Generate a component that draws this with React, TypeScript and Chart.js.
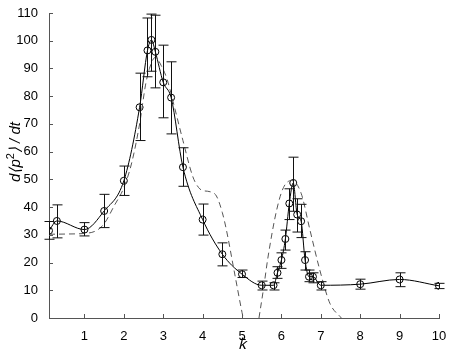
import React, { useEffect, useRef } from "react";
import { Chart, registerables } from "chart.js";

Chart.register(...registerables);

// measured points
const kVals = [0.1, 0.3, 1.0, 1.5, 2.0, 2.4, 2.6, 2.7, 2.8, 3.0, 3.2, 3.5, 4.0, 4.5, 5.0, 5.5, 5.8, 5.9, 6.0, 6.1, 6.2, 6.3, 6.4, 6.5, 6.6, 6.7, 6.8, 7.0, 8.0, 9.0, 10.0];
const rate = [31.5, 35, 31.9, 38.6, 49.5, 76, 96.5, 100.3, 96, 85, 79.5, 54.4, 35.5, 23, 15.8, 11.8, 11.8, 16.3, 20.9, 28.5, 41.3, 48.7, 37.3, 34.9, 20.9, 14.9, 14.9, 11.8, 12.2, 13.9, 11.6];
const errHigh = [34.8, 40.8, 34.4, 44.6, 54.8, 88.3, 108.2, 109.6, 109.2, 98.4, 92.4, 61.4, 41.1, 27.1, 17.3, 13.3, 12.7, 18.5, 23.5, 31.7, 46.6, 58, 43, 41, 23.9, 17.3, 16.3, 13.1, 14, 16.3, 12.5];
const errLow = [28.4, 28.9, 29.6, 32.6, 44.2, 64, 87, 89, 83, 72.2, 66.4, 47.5, 29.9, 18.8, 14.6, 10.1, 10.1, 14.3, 17.9, 24.5, 35.5, 38.5, 31, 29, 17.3, 13.1, 12.7, 10.1, 10.4, 11.3, 10.6];

// theory curve (dashed); null marks a gap where the curve is below the axis
const kTheory = [0.1, 0.6, 1.0, 1.3, 1.5, 1.76, 2.0, 2.2, 2.4, 2.55, 2.65, 2.8, 2.95, 3.1, 3.25, 3.5, 3.75, 3.9, 4.0, 4.2, 4.35, 4.5, 4.6, 4.8, 5.0, 5.03, 5.2, 5.43, 5.55, 5.66, 5.88, 6.05, 6.26, 6.5, 6.72, 6.98, 7.23, 7.52];
const theory = [30.2, 30.3, 30.5, 31.5, 34, 40.6, 47, 56, 70, 84, 90, 94, 91, 86, 78, 64, 51, 47, 46, 45.5, 44, 38, 32, 17, 2, 0, null, 0, 11, 22, 39, 47, 49.6, 45, 32, 17, 5.3, 0];

const xTicks = [1, 2, 3, 4, 5, 6, 7, 8, 9, 10];
const yTicks = [0, 10, 20, 30, 40, 50, 60, 70, 80, 90, 100, 110];

const AXIS = "#555";
const FONT = "'Liberation Sans', Arial, Helvetica, sans-serif";

const errorBars = {
  id: "errorBars",
  afterDatasetsDraw(chart: any) {
    const { ctx, scales } = chart;
    const xs = scales.x, ys = scales.y;
    ctx.save();
    ctx.strokeStyle = "#111";
    ctx.lineWidth = 1;
    for (let i = 0; i < kVals.length; i++) {
      const px = Math.round(xs.getPixelForValue(kVals[i])) + 0.5;
      const hi = ys.getPixelForValue(errHigh[i]);
      const lo = ys.getPixelForValue(errLow[i]);
      ctx.beginPath();
      ctx.moveTo(px, hi);
      ctx.lineTo(px, lo);
      ctx.moveTo(px - 5, hi);
      ctx.lineTo(px + 5, hi);
      ctx.moveTo(px - 5, lo);
      ctx.lineTo(px + 5, lo);
      ctx.stroke();
    }
    ctx.restore();
  },
};

const innerTicks = {
  id: "innerTicks",
  afterDraw(chart: any) {
    const { ctx, scales, chartArea } = chart;
    ctx.save();
    ctx.strokeStyle = AXIS;
    ctx.lineWidth = 1;
    ctx.beginPath();
    for (const v of xTicks) {
      const px = Math.round(scales.x.getPixelForValue(v)) + 0.5;
      ctx.moveTo(px, chartArea.bottom);
      ctx.lineTo(px, chartArea.bottom - 4);
    }
    for (const v of yTicks) {
      const py = Math.round(scales.y.getPixelForValue(v)) + 0.5;
      ctx.moveTo(chartArea.left, py);
      ctx.lineTo(chartArea.left + 4, py);
    }
    ctx.stroke();

    // axis titles
    ctx.fillStyle = "#000";
    // x title
    ctx.font = `italic 15px ${FONT}`;
    ctx.textAlign = "center";
    ctx.textBaseline = "middle";
    ctx.fillText("ꝁ", (chartArea.left + chartArea.right) / 2 - 2, 345);

    // y title with superscript
    ctx.translate(16, 152);
    ctx.rotate(-Math.PI / 2);
    const parts: [string, boolean][] = [["d⟨p", false], ["2", true], ["⟩ / dt", false]];
    let total = 0;
    for (const [t, sup] of parts) {
      ctx.font = sup ? `11px ${FONT}` : `italic 15px ${FONT}`;
      total += ctx.measureText(t).width;
    }
    let x = -total / 2;
    ctx.textAlign = "left";
    for (const [t, sup] of parts) {
      ctx.font = sup ? `11px ${FONT}` : `italic 15px ${FONT}`;
      ctx.fillText(t, x, sup ? -5 : 0);
      x += ctx.measureText(t).width;
    }
    ctx.restore();
  },
};

export default function App() {
  const ref = useRef<HTMLCanvasElement>(null);
  useEffect(() => {
    if (!ref.current) return;
    const chart = new Chart(ref.current, {
      type: "scatter",
      data: {
        datasets: [
          {
            data: kTheory.map((k, i) => ({ x: k, y: theory[i] as any })),
            showLine: true,
            spanGaps: false,
            borderColor: "#555",
            borderWidth: 1,
            borderDash: [6, 4],
            pointRadius: 0,
            cubicInterpolationMode: "monotone",
          } as any,
          {
            data: kVals.map((k, i) => ({ x: k, y: rate[i] })),
            showLine: true,
            borderColor: "#000",
            borderWidth: 1,
            pointRadius: 3.5,
            pointBorderWidth: 1,
            pointBorderColor: "#000",
            pointBackgroundColor: "rgba(0,0,0,0)",
            cubicInterpolationMode: "monotone",
          } as any,
        ],
      },
      options: {
        responsive: false,
        animation: false,
        layout: { padding: { top: 13, right: 11, left: 0, bottom: 0 } },
        plugins: { legend: { display: false }, tooltip: { enabled: false } },
        scales: {
          x: {
            type: "linear",
            min: 0.1,
            max: 10,
            afterBuildTicks: (s: any) => {
              s.ticks = xTicks.map((v) => ({ value: v }));
            },
            afterFit: (s: any) => {
              s.height = 36;
            },
            grid: { display: false },
            border: { display: true, color: AXIS, width: 1 },
            ticks: {
              color: "#000",
              font: { family: FONT, size: 13 },
              padding: 3,
              maxRotation: 0,
              autoSkip: false,
            },
          },
          y: {
            type: "linear",
            min: 0,
            max: 110,
            afterBuildTicks: (s: any) => {
              s.ticks = yTicks.map((v) => ({ value: v }));
            },
            afterFit: (s: any) => {
              s.width = 49;
            },
            grid: { display: false },
            border: { display: true, color: AXIS, width: 1 },
            ticks: {
              color: "#000",
              font: { family: FONT, size: 13 },
              padding: 3,
              autoSkip: false,
            },
          },
        },
      },
      plugins: [errorBars, innerTicks],
    });
    return () => chart.destroy();
  }, []);
  return (
    <div style={{ position: "fixed", left: 0, top: 0, width: 450, height: 354, background: "#fff" }}>
      <canvas ref={ref} width={450} height={354} style={{ display: "block" }} />
    </div>
  );
}
